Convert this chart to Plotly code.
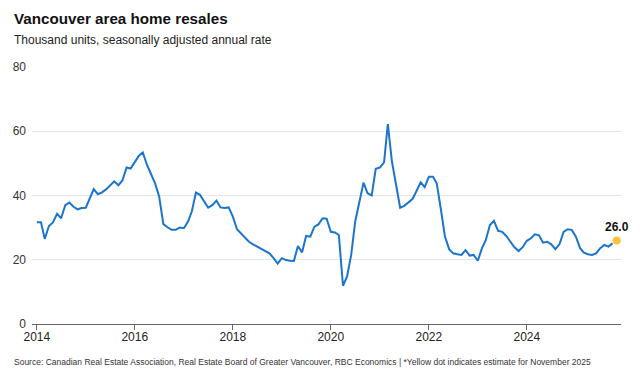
import pandas as pd
import plotly.graph_objects as go

# Monthly values, thousand units SAAR, Jan 2014 - Oct 2025
v2014 = [31.7, 31.7, 26.5, 30.5, 31.6, 34.3, 32.9, 37.0, 37.8, 36.5, 35.7, 36.1]
v2015 = [36.2, 39.1, 42.0, 40.4, 41.0, 41.9, 43.1, 44.4, 43.2, 44.7, 48.7, 48.4]
v2016 = [50.4, 52.4, 53.4, 49.5, 46.7, 43.7, 39.6, 31.1, 30.1, 29.3, 29.3, 30.0]
v2017 = [29.8, 31.9, 35.0, 40.9, 40.2, 38.1, 36.2, 37.0, 38.4, 36.3, 36.1, 36.3]
v2018 = [33.4, 29.5, 28.2, 27.0, 25.6, 24.8, 24.1, 23.4, 22.8, 22.0, 20.5, 18.8]
v2019 = [20.5, 19.9, 19.7, 19.6, 24.3, 22.3, 27.4, 27.2, 30.3, 31.0, 32.9, 32.8]
v2020 = [28.7, 28.5, 27.7, 11.9, 14.7, 21.5, 31.9, 37.6, 44.0, 40.7, 40.0, 48.3]
v2021 = [48.7, 50.3, 62.2, 50.5, 43.3, 36.2, 36.8, 37.8, 38.9, 41.4, 44.1, 42.6]
v2022 = [45.8, 45.8, 43.7, 35.5, 27.2, 23.3, 22.0, 21.7, 21.5, 23.0, 21.3, 21.5]
v2023 = [19.7, 23.6, 26.1, 30.8, 32.1, 29.0, 28.7, 27.4, 25.6, 23.9, 22.7, 23.9]
v2024 = [25.9, 26.7, 27.9, 27.6, 25.3, 25.6, 24.8, 23.3, 24.9, 28.7, 29.5, 29.3]
v2025 = [27.2, 23.6, 22.2, 21.7, 21.5, 22.0, 23.6, 24.6, 24.1, 25.1]

estimate_date = "2025-11-01"
estimate_value = 26.0

tick_years = ["2014", "2016", "2018", "2020", "2022", "2024"]
y_ticks = [0, 20, 40, 60, 80]

values = v2014 + v2015 + v2016 + v2017 + v2018 + v2019 + v2020 + v2021 + v2022 + v2023 + v2024 + v2025
dates = pd.date_range("2014-01-01", periods=len(values), freq="MS")

FONT = "Liberation Sans, Arial, sans-serif"

fig = go.Figure()
fig.add_trace(go.Scatter(
    x=dates, y=values, mode="lines",
    line=dict(color="#1b75cc", width=2),
    hoverinfo="skip", showlegend=False,
))
fig.add_trace(go.Scatter(
    x=[estimate_date], y=[estimate_value], mode="markers+text",
    marker=dict(color="#fbc23a", size=8),
    text=[f"{estimate_value:.1f}"], textposition="top center",
    textfont=dict(family=FONT, size=12, color="#111111", weight="bold"),
    cliponaxis=False,
    hoverinfo="skip", showlegend=False,
))

fig.update_layout(
    width=640, height=378,
    margin=dict(l=32, r=19, t=67, b=54),
    paper_bgcolor="white", plot_bgcolor="white",
    font=dict(family=FONT, size=12, color="#333333"),
    xaxis=dict(
        range=["2013-11-26", "2025-12-03"],
        tickvals=[f"{y}-01-01" for y in tick_years],
        ticktext=tick_years,
        showgrid=False, zeroline=False,
        showline=True, linecolor="#666666", linewidth=1,
        ticks="outside", ticklen=5, tickcolor="#666666", tickwidth=1,
        ticklabelstandoff=-3,
        tickfont=dict(size=12, color="#222222"),
    ),
    yaxis=dict(
        range=[0, 80], tickvals=y_ticks,
        showgrid=True, gridcolor="#e6e6e6", gridwidth=1,
        zeroline=False, showline=False,
        ticks="", ticklabelstandoff=5,
        tickfont=dict(size=12, color="#333333"),
    ),
    annotations=[
        dict(text="<b>Vancouver area home resales</b>", xref="paper", yref="paper",
             x=-0.034, y=1.19, xanchor="left", yanchor="middle", showarrow=False,
             font=dict(family=FONT, size=15.2, color="#111111")),
        dict(text="Thousand units, seasonally adjusted annual rate", xref="paper", yref="paper",
             x=-0.034, y=1.105, xanchor="left", yanchor="middle", showarrow=False,
             font=dict(family=FONT, size=12, color="#222222")),
        dict(text="Source: Canadian Real Estate Association, Real Estate Board of Greater Vancouver, RBC Economics | *Yellow dot indicates estimate for November 2025",
             xref="paper", yref="paper",
             x=-0.034, y=-0.148, xanchor="left", yanchor="middle", showarrow=False,
             font=dict(family=FONT, size=8.5, color="#333333")),
    ],
)

fig.write_html("out.html",
               config={"displayModeBar": False},
               post_script="document.body.style.margin='0';document.body.style.padding='0';")
